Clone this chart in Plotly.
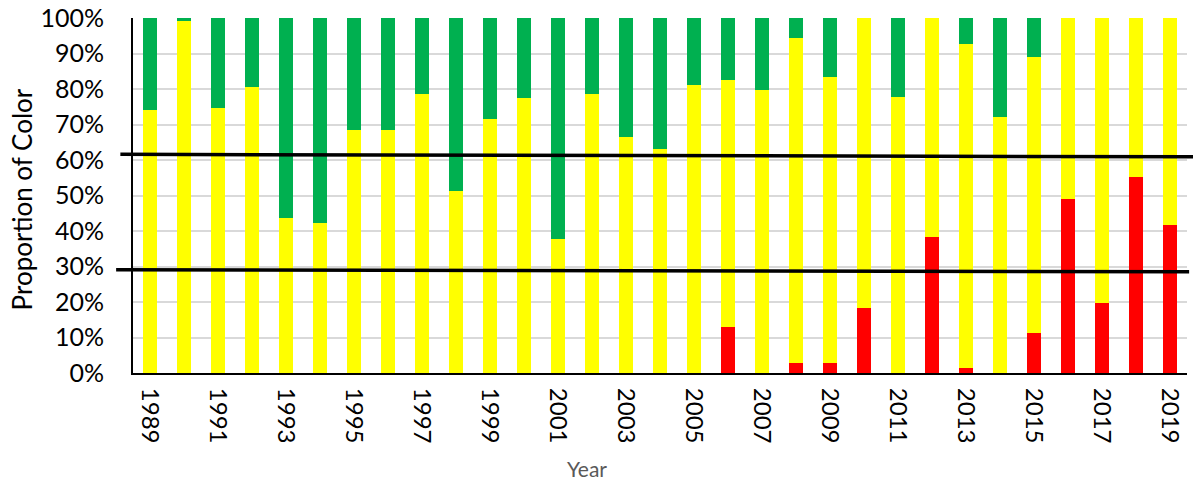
import plotly.graph_objects as go

years = [str(y) for y in range(1989, 2020)]
# proportion (%) of each color per year
red = [0, 0, 0, 0, 0, 0, 0, 0, 0, 0, 0, 0, 0, 0, 0, 0, 0,
       13.0, 0, 2.7, 2.7, 18.3, 0, 38.3, 1.5, 0, 11.3, 49.1, 19.8, 55.2, 41.6]
yellow_top = [74.0, 99.2, 74.7, 80.6, 43.7, 42.3, 68.5, 68.5, 78.6, 51.4, 71.5,
              77.4, 37.7, 78.7, 66.5, 63.2, 81.2, 82.5, 79.8, 94.5, 83.5, 100,
              77.8, 100, 92.8, 72.0, 89.0, 100, 100, 100, 100]
yellow = [round(t - r, 1) for t, r in zip(yellow_top, red)]
green = [round(100 - t, 1) for t in yellow_top]

tick_years = [str(y) for y in range(1989, 2020, 2)]
y_ticks = list(range(0, 101, 10))
y_tick_labels = [f"{v}%" for v in y_ticks]

# reference lines (left value, right value) in %
line_upper = (61.6, 60.9)
line_lower = (29.1, 28.5)

FONT = "Lato"

fig = go.Figure()
fig.add_trace(go.Bar(x=years, y=red, marker_color="#FF0000", marker_line_width=0, name="Red"))
fig.add_trace(go.Bar(x=years, y=yellow, marker_color="#FFFF00", marker_line_width=0, name="Yellow"))
fig.add_trace(go.Bar(x=years, y=green, marker_color="#00B050", marker_line_width=0, name="Green"))

fig.update_layout(
    barmode="stack",
    bargap=0.6,
    width=1193, height=487,
    margin=dict(l=133, r=6, t=18, b=114, autoexpand=False),
    paper_bgcolor="white", plot_bgcolor="white",
    showlegend=False,
    font=dict(family=FONT, size=24, color="black"),
)
fig.update_xaxes(
    type="category", automargin=False,
    tickvals=tick_years, ticktext=tick_years,
    tickangle=90,
    showline=True, linecolor="black", linewidth=2,
    showgrid=False, ticks="", ticklabelstandoff=8,
    tickfont=dict(family=FONT, size=24, color="black"),
)
fig.update_yaxes(
    range=[0, 100], automargin=False,
    tickvals=y_ticks, ticktext=y_tick_labels,
    showline=True, linecolor="black", linewidth=2,
    showgrid=True, gridcolor="#D9D9D9", gridwidth=2,
    ticks="", ticklabelstandoff=22,
    tickfont=dict(family=FONT, size=25, color="black"),
    zeroline=False,
)

# horizontal reference lines drawn across the plot
for (y0, y1), (x0, x1) in [(line_upper, (-0.012, 1.01)), (line_lower, (-0.016, 1.002))]:
    fig.add_shape(type="line", xref="paper", yref="y", x0=x0, x1=x1, y0=y0, y1=y1,
                  line=dict(color="black", width=3.5))

fig.add_annotation(text="Proportion of Color", xref="paper", yref="paper",
                   x=-0.105, y=0.49, textangle=-90, showarrow=False,
                   xanchor="center", yanchor="middle",
                   font=dict(family=FONT, size=26, color="black"))
fig.add_annotation(text="Year", xref="paper", yref="paper",
                   x=0.431, y=-0.27, showarrow=False,
                   xanchor="center", yanchor="middle",
                   font=dict(family=FONT, size=21, color="#595959"))

fig.write_html("out.html", config={"displayModeBar": False},
               post_script="document.body.style.margin='0px';")
